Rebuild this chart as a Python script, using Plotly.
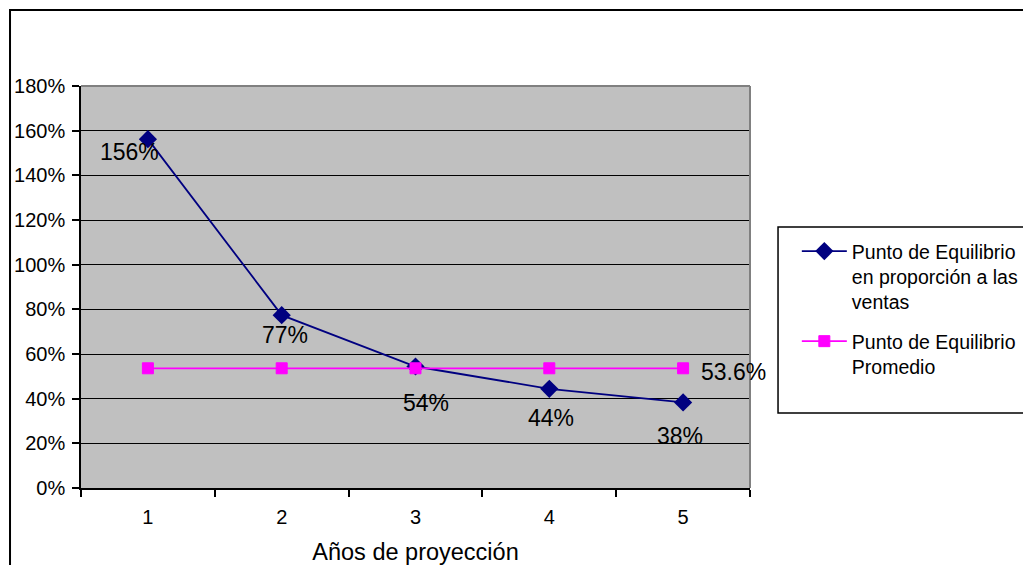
import plotly.graph_objects as go

# ---- data ----
years = ["1", "2", "3", "4", "5"]
pe_ventas = [1.562, 0.774, 0.544, 0.444, 0.383]
pe_promedio = [0.536, 0.536, 0.536, 0.536, 0.536]
name_ventas = "Punto de Equilibrio<br>en proporción a las<br>ventas"
name_promedio = "Punto de Equilibrio<br>Promedio"
y_ticks = [0, 0.2, 0.4, 0.6, 0.8, 1.0, 1.2, 1.4, 1.6, 1.8]
x_title = "Años de proyección"

# label offsets (pixels) for data labels of the first series
label_dx = [-18, 3, 10, 2, -3]
label_dy = [-13, -20, -36, -29, -34]

FONT = "Arial, 'Liberation Sans', sans-serif"

fig = go.Figure()
fig.add_trace(go.Scatter(
    x=years, y=pe_ventas, name=name_ventas, mode="lines+markers",
    line=dict(color="#000080", width=1.8),
    marker=dict(symbol="diamond", size=14, color="#000080"),
    legendgroup="a",
))
fig.add_trace(go.Scatter(
    x=years, y=pe_promedio, name=name_promedio, mode="lines+markers",
    line=dict(color="#FF00FF", width=1.8),
    marker=dict(symbol="square", size=11, color="#FF00FF",
                line=dict(color="#FF00FF", width=1)),
    legendgroup="b",
))

annotations = []
for i, v in enumerate(pe_ventas):
    annotations.append(dict(
        x=i, y=v, xref="x", yref="y", text=f"{v:.0%}", showarrow=False,
        xanchor="center", yanchor="middle", xshift=label_dx[i], yshift=label_dy[i],
        font=dict(family=FONT, size=23, color="black"),
    ))
annotations.append(dict(
    x=len(years) - 1, y=pe_promedio[-1], xref="x", yref="y",
    text=f"{pe_promedio[-1]*100:.1f}%", showarrow=False,
    xanchor="center", yanchor="middle", xshift=50, yshift=-4,
    font=dict(family=FONT, size=23, color="black"),
))

shapes = [
    # outer chart border
    dict(type="rect", xref="paper", yref="paper", x0=-0.1061, x1=1.6, y0=-0.3, y1=1.189,
         line=dict(color="black", width=2), layer="below"),
    # legend border
    dict(type="rect", xref="paper", yref="paper", x0=1.0419, x1=1.6, y0=0.1866, y1=0.649,
         line=dict(color="black", width=1.5), fillcolor="white", layer="below"),
    # plot area top/right border (gray)
    dict(type="line", xref="paper", yref="paper", x0=0, x1=1, y0=1, y1=1,
         line=dict(color="#808080", width=2), layer="above"),
    dict(type="line", xref="paper", yref="paper", x0=1, x1=1, y0=0, y1=1,
         line=dict(color="#808080", width=2), layer="above"),
]

fig.update_layout(
    width=1023, height=565,
    margin=dict(l=81, r=273, t=86, b=77, autoexpand=False),
    paper_bgcolor="white", plot_bgcolor="#C0C0C0",
    font=dict(family=FONT, color="black", size=20),
    showlegend=True,
    legend=dict(
        x=1.07, y=0.637, xanchor="left", yanchor="top",
        bgcolor="rgba(0,0,0,0)", borderwidth=0,
        font=dict(family=FONT, size=19.5, color="black"),
        valign="top", itemwidth=45, tracegroupgap=11,
    ),
    annotations=annotations,
    shapes=shapes,
    xaxis=dict(
        type="category", range=[-0.5, 4.5], autorange=False,
        tickson="boundaries", ticks="outside", ticklen=7,
        tickcolor="black", tickwidth=1.5, showline=True, linecolor="black", linewidth=1.5,
        showgrid=False, zeroline=False, ticklabelstandoff=10,
        tickfont=dict(family=FONT, size=20, color="black"),
        title=dict(text=x_title, font=dict(family=FONT, size=23.5, color="black"), standoff=17),
    ),
    yaxis=dict(
        range=[0, 1.8], autorange=False, tickvals=y_ticks, tickformat=".0%",
        ticks="outside", ticklen=7,
        tickcolor="black", tickwidth=1.5, showline=True, linecolor="black", linewidth=1.5,
        showgrid=True, gridcolor="black", gridwidth=1.2, zeroline=False,
        ticklabelstandoff=3,
        tickfont=dict(family=FONT, size=20, color="black"),
    ),
)

fig.write_html("out.html",
               config={"displayModeBar": False},
               post_script="document.body.style.margin='0px';document.body.style.overflow='hidden';")
